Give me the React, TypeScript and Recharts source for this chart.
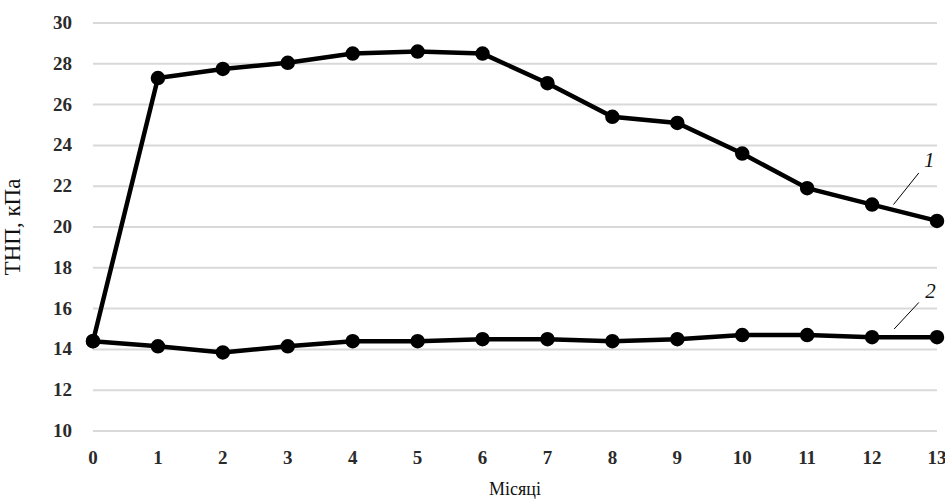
import React from "react";
import {
  LineChart, Line, XAxis, YAxis, CartesianGrid, ReferenceLine, ReferenceDot,
} from "recharts";

// months after start
const months = [0, 1, 2, 3, 4, 5, 6, 7, 8, 9, 10, 11, 12, 13];
// curve 1 and curve 2, kPa
const curve1 = [14.4, 27.3, 27.75, 28.05, 28.5, 28.6, 28.5, 27.05, 25.4, 25.1, 23.6, 21.9, 21.1, 20.3];
const curve2 = [14.4, 14.15, 13.85, 14.15, 14.4, 14.4, 14.5, 14.5, 14.4, 14.5, 14.7, 14.7, 14.6, 14.6];
const yTicks = [10, 12, 14, 16, 18, 20, 22, 24, 26, 28, 30];

const data = months.map((m, i) => ({ m, c1: curve1[i], c2: curve2[i] }));

const FONT = "'Liberation Serif', 'Times New Roman', serif";
const tickText = { fontFamily: FONT, fontSize: 19, fontWeight: 700, fill: "#2a2a2a" };

function XTick({ x, y, payload }: any) {
  return (
    <text x={x} y={y + 13} textAnchor="middle" style={tickText}>
      {payload.value}
    </text>
  );
}

function YTick({ x, y, payload }: any) {
  return (
    <text x={x} y={y + 6} textAnchor="end" style={tickText}>
      {payload.value}
    </text>
  );
}

export default function App() {
  return (
    <div style={{ position: "absolute", left: 0, top: 0, background: "#fff", fontFamily: FONT }}>
      <LineChart width={945} height={499} data={data} margin={{ top: 23, right: 8, bottom: 0, left: 0 }}>
        <CartesianGrid vertical={false} stroke="#d9d9d9" strokeWidth={2} />
        <XAxis
          dataKey="m"
          type="number"
          domain={[0, 13]}
          ticks={months}
          tickLine={false}
          axisLine={false}
          tickSize={0}
          tickMargin={20}
          height={68}
          tick={<XTick />}
          label={{
            value: "Місяці",
            position: "insideBottom",
            offset: 4,
            style: { fontSize: 18, fill: "#111", fontFamily: FONT },
          }}
        />
        <YAxis
          domain={[10, 30]}
          ticks={yTicks}
          tickLine={false}
          axisLine={false}
          tickSize={0}
          tickMargin={21}
          width={93}
          tick={<YTick />}
          label={{
            value: "ТНП, кПа",
            angle: -90,
            position: "insideLeft",
            offset: 12,
            style: { fontSize: 23, fill: "#111", fontFamily: FONT, textAnchor: "middle" },
          }}
        />
        <Line dataKey="c1" stroke="#000" strokeWidth={4.5} dot={{ r: 5, fill: "#000", stroke: "#000" }} isAnimationActive={false} />
        <Line dataKey="c2" stroke="#000" strokeWidth={4.5} dot={{ r: 5, fill: "#000", stroke: "#000" }} isAnimationActive={false} />
        <ReferenceLine segment={[{ x: 12.33, y: 21.1 }, { x: 12.72, y: 22.65 }]} stroke="#000" strokeWidth={1} />
        <ReferenceLine segment={[{ x: 12.34, y: 15.0 }, { x: 12.72, y: 16.3 }]} stroke="#000" strokeWidth={1} />
        <ReferenceDot
          x={12.88}
          y={23.3}
          r={0}
          fill="none"
          stroke="none"
          label={{ value: "1", position: "center", style: { fontSize: 21, fontStyle: "italic", fill: "#111", fontFamily: FONT } }}
        />
        <ReferenceDot
          x={12.9}
          y={16.9}
          r={0}
          fill="none"
          stroke="none"
          label={{ value: "2", position: "center", style: { fontSize: 21, fontStyle: "italic", fill: "#111", fontFamily: FONT } }}
        />
      </LineChart>
    </div>
  );
}
